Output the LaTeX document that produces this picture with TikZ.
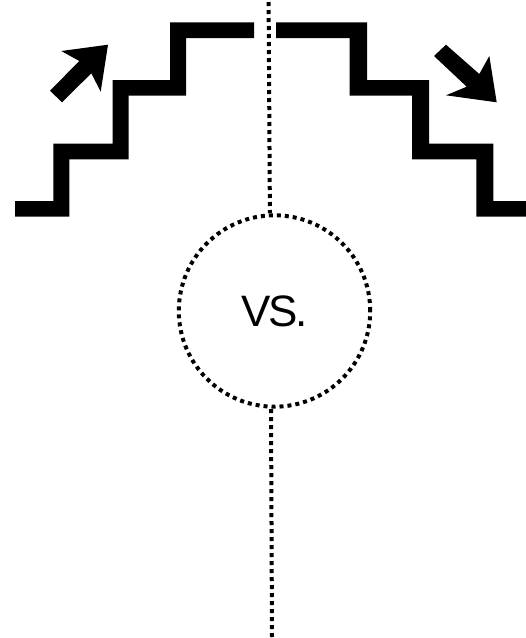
\documentclass[tikz,border=0pt]{standalone}
\usepackage{fontspec}
\setmainfont{Liberation Sans}
\tikzset{
  dotline/.style={draw=black,line width=4pt,dash pattern=on 4pt off 4pt},
  solidshape/.style={fill=black,draw=none},
  vscircle/.style={circle,dotline,minimum size=191.4pt,inner sep=0pt,outer sep=0pt,font=\fontsize{44}{44}\selectfont}
}
\begin{document}
\begin{tikzpicture}[x=1pt,y=-1pt]
\useasboundingbox (0,0) rectangle (526,638);
% stairs up
\fill[solidshape] (15,201) -- (53.3,201) -- (53.3,143.7) -- (112.7,143.7) -- (112.7,80) -- (170,80) -- (170,22.3) -- (254,22.3) -- (254,38) -- (186,38) -- (186,95.7) -- (128.7,95.7) -- (128.7,159.3) -- (69.3,159.3) -- (69.3,216.7) -- (15,216.7) -- cycle;
% stairs down
\fill[solidshape] (276,22.3) -- (367,22.3) -- (367,80) -- (429,80) -- (429,143.7) -- (493.3,143.7) -- (493.3,201) -- (526,201) -- (526,216.7) -- (476.3,216.7) -- (476.3,159.3) -- (412,159.3) -- (412,95.7) -- (349.7,95.7) -- (349.7,38) -- (276,38) -- cycle;
% arrows
\fill[solidshape] (108,44.7) -- (61.3,51) -- (79.3,61) -- (50,90.7) -- (62,102.3) -- (91.3,73.3) -- (100.7,91.7) -- cycle;
\fill[solidshape] (496.7,102.3) -- (446,95.3) -- (466.7,86.7) -- (434,56) -- (446,44.7) -- (479.3,74) -- (489.3,56) -- cycle;
% centre
\node[vscircle] (vs) at (274.5,311) {\raisebox{-0.3pt}{V\kern-2pt S\kern-2pt .}};
\coordinate (topend) at (268.6,2);
\coordinate (topjoin) at (269.9,213);
\coordinate (botjoin) at (271,409);
\coordinate (botend) at (272,637);
\draw[dotline] (topend) -- (topjoin);
\draw[dotline] (botjoin) -- (botend);
\end{tikzpicture}
\end{document}
